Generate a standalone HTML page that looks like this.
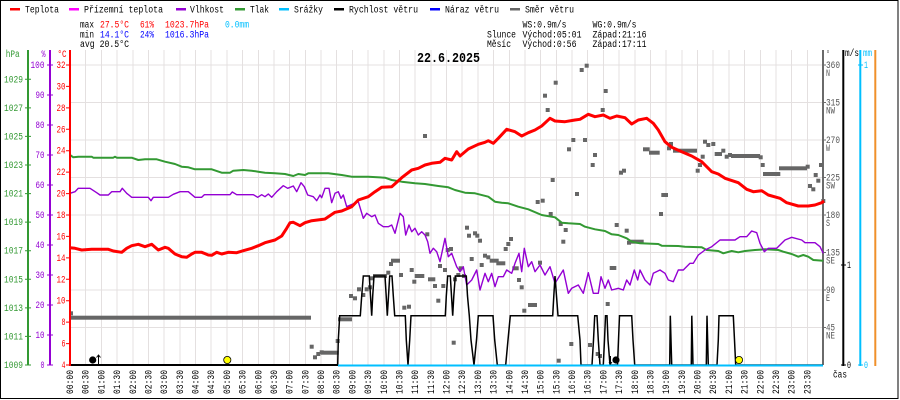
<!DOCTYPE html>
<html><head><meta charset="utf-8"><style>
html,body{margin:0;padding:0;background:#fff}
svg{display:block}
.t{font-family:"Liberation Mono","DejaVu Sans Mono",monospace;font-size:10px}
.b{font-family:"Liberation Mono","DejaVu Sans Mono",monospace;font-size:14px;font-weight:bold}
</style></head><body>
<svg width="900" height="400" viewBox="0 0 900 400" xmlns="http://www.w3.org/2000/svg">
<rect x="0" y="0" width="900" height="400" fill="#fff"/>
<rect x="0.5" y="0.5" width="897.5" height="398" fill="none" stroke="#000" stroke-width="1"/>

<!-- grid -->
<path shape-rendering="crispEdges" stroke="#e4e0e0" stroke-width="1" fill="none" d="M85.7 50V365M101.4 50V365M117.1 50V365M132.8 50V365M148.4 50V365M164.1 50V365M179.8 50V365M195.5 50V365M211.2 50V365M226.9 50V365M242.6 50V365M258.3 50V365M273.9 50V365M289.6 50V365M305.3 50V365M321 50V365M336.7 50V365M352.4 50V365M368.1 50V365M383.8 50V365M399.4 50V365M415.1 50V365M430.8 50V365M446.5 50V365M462.2 50V365M477.9 50V365M493.6 50V365M509.3 50V365M524.9 50V365M540.6 50V365M556.3 50V365M572 50V365M587.7 50V365M603.4 50V365M619.1 50V365M634.8 50V365M650.4 50V365M666.1 50V365M681.8 50V365M697.5 50V365M713.2 50V365M728.9 50V365M744.6 50V365M760.3 50V365M775.9 50V365M791.6 50V365M807.3 50V365M70 65H823M70 102.5H823M70 140H823M70 177.5H823M70 215H823M70 252.5H823M70 290H823M70 327.5H823"/>

<!-- legend -->
<g class="t">
<rect x="10" y="8" width="10" height="2.5" fill="#ff0000"/><text x="25" y="12.5" textLength="34" lengthAdjust="spacingAndGlyphs">Teplota</text>
<rect x="69" y="8" width="10" height="2.5" fill="#ff00ff"/><text x="84" y="12.5" textLength="79" lengthAdjust="spacingAndGlyphs">Přízemní teplota</text>
<rect x="176" y="8" width="10" height="2.5" fill="#9400d3"/><text x="190" y="12.5" textLength="34" lengthAdjust="spacingAndGlyphs">Vlhkost</text>
<rect x="235" y="8" width="10" height="2.5" fill="#339933"/><text x="250" y="12.5" textLength="19" lengthAdjust="spacingAndGlyphs">Tlak</text>
<rect x="279" y="8" width="10" height="2.5" fill="#00bfff"/><text x="294" y="12.5" textLength="29" lengthAdjust="spacingAndGlyphs">Srážky</text>
<rect x="334" y="8" width="10" height="2.5" fill="#000"/><text x="349" y="12.5" textLength="69" lengthAdjust="spacingAndGlyphs">Rychlost větru</text>
<rect x="430" y="8" width="10" height="2.5" fill="#0000ff"/><text x="445" y="12.5" textLength="54" lengthAdjust="spacingAndGlyphs">Náraz větru</text>
<rect x="510" y="8" width="10" height="2.5" fill="#666"/><text x="525" y="12.5" textLength="49" lengthAdjust="spacingAndGlyphs">Směr větru</text>

<text x="80" y="27.5" textLength="14" lengthAdjust="spacingAndGlyphs">max</text>
<text x="100" y="27.5" fill="#ff0000" textLength="29" lengthAdjust="spacingAndGlyphs">27.5°C</text>
<text x="140" y="27.5" fill="#ff0000" textLength="14" lengthAdjust="spacingAndGlyphs">61%</text>
<text x="165" y="27.5" fill="#ff0000" textLength="44" lengthAdjust="spacingAndGlyphs">1023.7hPa</text>
<text x="225" y="27.5" fill="#00bfff" textLength="24" lengthAdjust="spacingAndGlyphs">0.0mm</text>
<text x="80" y="37.5" textLength="14" lengthAdjust="spacingAndGlyphs">min</text>
<text x="100" y="37.5" fill="#0000ff" textLength="29" lengthAdjust="spacingAndGlyphs">14.1°C</text>
<text x="140" y="37.5" fill="#0000ff" textLength="14" lengthAdjust="spacingAndGlyphs">24%</text>
<text x="165" y="37.5" fill="#0000ff" textLength="44" lengthAdjust="spacingAndGlyphs">1016.3hPa</text>
<text x="80" y="47" textLength="49" lengthAdjust="spacingAndGlyphs">avg 20.5°C</text>

<text x="522.5" y="27.5" textLength="44" lengthAdjust="spacingAndGlyphs">WS:0.9m/s</text>
<text x="592.5" y="27.5" textLength="44" lengthAdjust="spacingAndGlyphs">WG:0.9m/s</text>
<text x="487" y="37.5" textLength="29" lengthAdjust="spacingAndGlyphs">Slunce</text>
<text x="522.5" y="37.5" textLength="59" lengthAdjust="spacingAndGlyphs">Východ:05:01</text>
<text x="592.5" y="37.5" textLength="54" lengthAdjust="spacingAndGlyphs">Západ:21:16</text>
<text x="487" y="47" textLength="24" lengthAdjust="spacingAndGlyphs">Měsíc</text>
<text x="522.5" y="47" textLength="54" lengthAdjust="spacingAndGlyphs">Východ:0:56</text>
<text x="592.5" y="47" textLength="54" lengthAdjust="spacingAndGlyphs">Západ:17:11</text>
</g>
<text class="b" x="417" y="62" textLength="63" lengthAdjust="spacingAndGlyphs">22.6.2025</text>

<!-- left axes -->
<g stroke-width="2">
<line x1="28" y1="50" x2="28" y2="365" stroke="#339933"/>
<line x1="50" y1="50" x2="50" y2="365" stroke="#9400d3"/>
</g>
<path stroke="#339933" stroke-width="1" d="M25 365H31M25 336.4H31M25 307.9H31M25 279.3H31M25 250.7H31M25 222.1H31M25 193.6H31M25 165H31M25 136.4H31M25 107.9H31M25 79.3H31"/>
<path stroke="#9400d3" stroke-width="1" d="M47 365H53M47 335H53M47 305H53M47 275H53M47 245H53M47 215H53M47 185H53M47 155H53M47 125H53M47 95H53M47 65H53"/>
<path stroke="#ff0000" stroke-width="1" d="M66 365H70M66 343.6H70M66 322.1H70M66 300.7H70M66 279.3H70M66 257.9H70M66 236.4H70M66 215H70M66 193.6H70M66 172.1H70M66 150.7H70M66 129.3H70M66 107.9H70M66 86.4H70M66 65H70"/>

<g class="t" fill="#339933" text-anchor="end">
<text x="23" y="57" text-anchor="start" transform="translate(-17.3 0)" textLength="14" lengthAdjust="spacingAndGlyphs">hPa</text>
<text x="23" y="368" textLength="19" lengthAdjust="spacingAndGlyphs">1009</text>
<text x="23" y="339.4" textLength="19" lengthAdjust="spacingAndGlyphs">1011</text>
<text x="23" y="310.9" textLength="19" lengthAdjust="spacingAndGlyphs">1013</text>
<text x="23" y="282.3" textLength="19" lengthAdjust="spacingAndGlyphs">1015</text>
<text x="23" y="253.7" textLength="19" lengthAdjust="spacingAndGlyphs">1017</text>
<text x="23" y="225.1" textLength="19" lengthAdjust="spacingAndGlyphs">1019</text>
<text x="23" y="196.6" textLength="19" lengthAdjust="spacingAndGlyphs">1021</text>
<text x="23" y="168" textLength="19" lengthAdjust="spacingAndGlyphs">1023</text>
<text x="23" y="139.4" textLength="19" lengthAdjust="spacingAndGlyphs">1025</text>
<text x="23" y="110.9" textLength="19" lengthAdjust="spacingAndGlyphs">1027</text>
<text x="23" y="82.3" textLength="19" lengthAdjust="spacingAndGlyphs">1029</text>
</g>
<g class="t" fill="#9400d3" text-anchor="end">
<text x="45.5" y="57" textLength="4" lengthAdjust="spacingAndGlyphs">%</text>
<text x="44.5" y="368" textLength="4" lengthAdjust="spacingAndGlyphs">0</text>
<text x="44.5" y="338" textLength="9" lengthAdjust="spacingAndGlyphs">10</text>
<text x="44.5" y="308" textLength="9" lengthAdjust="spacingAndGlyphs">20</text>
<text x="44.5" y="278" textLength="9" lengthAdjust="spacingAndGlyphs">30</text>
<text x="44.5" y="248" textLength="9" lengthAdjust="spacingAndGlyphs">40</text>
<text x="44.5" y="218" textLength="9" lengthAdjust="spacingAndGlyphs">50</text>
<text x="44.5" y="188" textLength="9" lengthAdjust="spacingAndGlyphs">60</text>
<text x="44.5" y="158" textLength="9" lengthAdjust="spacingAndGlyphs">70</text>
<text x="44.5" y="128" textLength="9" lengthAdjust="spacingAndGlyphs">80</text>
<text x="44.5" y="98" textLength="9" lengthAdjust="spacingAndGlyphs">90</text>
<text x="44.5" y="68" textLength="14" lengthAdjust="spacingAndGlyphs">100</text>
</g>
<g class="t" fill="#ff0000" text-anchor="end">
<text x="66.5" y="57" textLength="9" lengthAdjust="spacingAndGlyphs">°C</text>
<text x="65.5" y="368" textLength="4" lengthAdjust="spacingAndGlyphs">4</text>
<text x="65.5" y="346.6" textLength="4" lengthAdjust="spacingAndGlyphs">6</text>
<text x="65.5" y="325.1" textLength="4" lengthAdjust="spacingAndGlyphs">8</text>
<text x="65.5" y="303.7" textLength="9" lengthAdjust="spacingAndGlyphs">10</text>
<text x="65.5" y="282.3" textLength="9" lengthAdjust="spacingAndGlyphs">12</text>
<text x="65.5" y="260.9" textLength="9" lengthAdjust="spacingAndGlyphs">14</text>
<text x="65.5" y="239.4" textLength="9" lengthAdjust="spacingAndGlyphs">16</text>
<text x="65.5" y="218" textLength="9" lengthAdjust="spacingAndGlyphs">18</text>
<text x="65.5" y="196.6" textLength="9" lengthAdjust="spacingAndGlyphs">20</text>
<text x="65.5" y="175.1" textLength="9" lengthAdjust="spacingAndGlyphs">22</text>
<text x="65.5" y="153.7" textLength="9" lengthAdjust="spacingAndGlyphs">24</text>
<text x="65.5" y="132.3" textLength="9" lengthAdjust="spacingAndGlyphs">26</text>
<text x="65.5" y="110.9" textLength="9" lengthAdjust="spacingAndGlyphs">28</text>
<text x="65.5" y="89.4" textLength="9" lengthAdjust="spacingAndGlyphs">30</text>
<text x="65.5" y="68" textLength="9" lengthAdjust="spacingAndGlyphs">32</text>
</g>

<!-- right axes -->
<g stroke-width="2">
<line x1="823" y1="50" x2="823" y2="365" stroke="#6a6a6a"/>
<line x1="843.3" y1="50" x2="843.3" y2="366" stroke="#000"/>
<line x1="860.3" y1="50" x2="860.3" y2="366" stroke="#00bfff"/>
<line x1="875.3" y1="50" x2="875.3" y2="366" stroke="#f0902a"/>
</g>
<path stroke="#6a6a6a" stroke-width="1" d="M823 65H826M823 102.5H826M823 140H826M823 177.5H826M823 215H826M823 252.5H826M823 290H826M823 327.5H826"/>
<path stroke="#000" stroke-width="1" d="M841 265H846M841 365H846"/>
<path stroke="#00bfff" stroke-width="1" d="M858 65H863M858 365H863"/>
<g class="t" fill="#555">
<text x="826" y="57" textLength="4" lengthAdjust="spacingAndGlyphs">°</text>
<text x="826" y="68" textLength="14" lengthAdjust="spacingAndGlyphs">360</text><text x="826" y="76" textLength="4" lengthAdjust="spacingAndGlyphs">N</text>
<text x="826" y="105.5" textLength="14" lengthAdjust="spacingAndGlyphs">315</text><text x="826" y="113.5" textLength="9" lengthAdjust="spacingAndGlyphs">NW</text>
<text x="826" y="143" textLength="14" lengthAdjust="spacingAndGlyphs">270</text><text x="826" y="151" textLength="4" lengthAdjust="spacingAndGlyphs">W</text>
<text x="826" y="180.5" textLength="14" lengthAdjust="spacingAndGlyphs">225</text><text x="826" y="188.5" textLength="9" lengthAdjust="spacingAndGlyphs">SW</text>
<text x="826" y="218" textLength="14" lengthAdjust="spacingAndGlyphs">180</text><text x="826" y="226" textLength="4" lengthAdjust="spacingAndGlyphs">S</text>
<text x="826" y="255.5" textLength="14" lengthAdjust="spacingAndGlyphs">135</text><text x="826" y="263.5" textLength="9" lengthAdjust="spacingAndGlyphs">SE</text>
<text x="826" y="293" textLength="9" lengthAdjust="spacingAndGlyphs">90</text><text x="826" y="301" textLength="4" lengthAdjust="spacingAndGlyphs">E</text>
<text x="826" y="330.5" textLength="9" lengthAdjust="spacingAndGlyphs">45</text><text x="826" y="338.5" textLength="9" lengthAdjust="spacingAndGlyphs">NE</text>
</g>
<g class="t">
<text x="845" y="56" textLength="14" lengthAdjust="spacingAndGlyphs">m/s</text>
<text x="847" y="268" textLength="4" lengthAdjust="spacingAndGlyphs">1</text>
<text x="847" y="368" textLength="4" lengthAdjust="spacingAndGlyphs">0</text>
<text x="833" y="377.5" textLength="14" lengthAdjust="spacingAndGlyphs">čas</text>
</g>
<g class="t" fill="#00bfff">
<text x="863" y="56" textLength="9" lengthAdjust="spacingAndGlyphs">mm</text>
<text x="864" y="68" textLength="4" lengthAdjust="spacingAndGlyphs">1</text>
<text x="864" y="368" textLength="4" lengthAdjust="spacingAndGlyphs">0</text>
</g>

<!-- wind direction squares -->
<g fill="#666">
<rect x="70" y="315.7" width="241" height="4"/><rect x="69" y="311.3" width="4" height="4"/>
<rect x="309.7" y="344.7" width="4" height="4"/><rect x="313" y="355.3" width="4" height="4"/><rect x="316.3" y="352" width="4" height="4"/><rect x="319.7" y="350.3" width="4" height="4"/>
<rect x="321" y="350.7" width="17.7" height="4"/><rect x="335.7" y="339" width="4" height="4"/><rect x="338" y="317.3" width="14" height="4"/>
<rect x="349" y="294" width="4" height="4"/><rect x="353" y="296.3" width="4" height="4"/><rect x="357" y="287.3" width="4" height="4"/><rect x="361.3" y="293" width="4" height="4"/><rect x="364.7" y="287.3" width="4" height="4"/><rect x="368" y="285.3" width="4" height="4"/><rect x="369.7" y="276.3" width="4" height="4"/>
<rect x="373" y="274" width="14" height="4"/><rect x="386.3" y="270.7" width="4" height="4"/><rect x="389" y="262" width="4" height="4"/><rect x="391" y="258.7" width="9" height="4"/>
<rect x="399" y="273" width="4" height="4"/><rect x="402.3" y="305.7" width="4" height="4"/><rect x="407" y="304.7" width="4" height="4"/><rect x="409.7" y="268" width="4" height="4"/><rect x="412.3" y="279.7" width="4" height="4"/><rect x="414.7" y="274" width="9.6" height="4"/>
<rect x="423" y="134" width="4" height="4"/><rect x="425.3" y="232.3" width="4" height="4"/><rect x="428" y="277.3" width="7.3" height="4"/><rect x="433" y="284" width="4" height="4"/><rect x="436.3" y="298.7" width="4" height="4"/><rect x="438" y="264" width="4" height="4"/><rect x="441.3" y="284" width="4" height="4"/><rect x="443" y="268" width="4" height="4"/><rect x="445.7" y="248" width="4" height="4"/><rect x="449" y="247" width="4" height="4"/><rect x="451.7" y="340.7" width="4" height="4"/><rect x="453" y="277.3" width="4" height="4"/><rect x="456.3" y="273" width="4" height="4"/><rect x="458.7" y="266.3" width="4" height="4"/><rect x="462" y="274" width="4" height="4"/>
<rect x="465" y="225.7" width="4" height="4"/><rect x="467" y="233.7" width="4" height="4"/><rect x="469.7" y="257" width="4" height="4"/><rect x="473" y="231.3" width="4" height="4"/><rect x="475.3" y="233.7" width="4" height="4"/><rect x="478" y="238.7" width="4" height="4"/><rect x="479.7" y="263" width="4" height="4"/><rect x="483" y="253.7" width="4" height="4"/><rect x="486.3" y="255.3" width="4" height="4"/><rect x="489.7" y="258.7" width="9" height="4"/><rect x="496.3" y="261.3" width="9" height="4"/>
<rect x="503.7" y="247" width="4" height="4"/><rect x="506.3" y="242" width="4" height="4"/><rect x="509" y="237" width="4" height="4"/><rect x="512.3" y="266.3" width="6.4" height="4"/><rect x="517" y="278" width="4" height="4"/><rect x="519.7" y="285.3" width="4" height="4"/><rect x="522.3" y="308.7" width="4" height="4"/><rect x="528" y="303" width="9" height="4"/>
<rect x="535.7" y="200" width="4" height="4"/><rect x="538" y="260.7" width="4" height="4"/><rect x="540.7" y="198.7" width="4" height="4"/><rect x="543" y="93.7" width="4" height="4"/><rect x="545.7" y="108" width="4" height="4"/><rect x="548.7" y="212" width="4" height="4"/><rect x="550.7" y="178" width="4" height="4"/><rect x="553.7" y="80.7" width="4" height="4"/><rect x="556.7" y="358.7" width="4" height="4"/><rect x="558.7" y="222" width="4" height="4"/><rect x="561.3" y="239.7" width="4" height="4"/><rect x="563.7" y="228" width="4" height="4"/><rect x="567" y="147.3" width="4" height="4"/><rect x="569.3" y="342" width="4" height="4"/><rect x="571.3" y="138" width="4" height="4"/>
<rect x="575" y="192" width="4" height="4"/><rect x="579.7" y="68" width="4" height="4"/><rect x="584.7" y="63.7" width="4" height="4"/><rect x="583" y="138" width="4" height="4"/><rect x="588" y="343" width="4" height="4"/><rect x="590.7" y="163" width="4" height="4"/><rect x="593" y="153" width="4" height="4"/><rect x="595.7" y="352" width="4" height="4"/><rect x="598" y="354" width="4" height="4"/><rect x="600.7" y="108" width="4" height="4"/><rect x="603.7" y="89" width="4" height="4"/><rect x="605.7" y="302" width="4" height="4"/><rect x="609.7" y="266" width="6.6" height="4"/>
<rect x="614.7" y="223" width="4" height="4"/><rect x="619" y="170.7" width="4" height="4"/><rect x="622" y="168.7" width="4" height="4"/><rect x="624.7" y="228.7" width="4" height="4"/><rect x="627" y="240.7" width="4" height="4"/><rect x="629.7" y="239.7" width="14" height="4"/><rect x="643" y="147.3" width="6.7" height="4"/><rect x="649" y="150.7" width="10.7" height="4"/><rect x="659" y="212" width="4" height="4"/><rect x="661.3" y="193" width="6.7" height="4"/><rect x="667" y="146.3" width="4" height="4"/><rect x="669" y="142" width="4" height="4"/><rect x="673" y="148.7" width="24" height="4"/>
<rect x="695.7" y="168.7" width="4" height="4"/><rect x="698" y="163" width="4" height="4"/><rect x="700.7" y="154.7" width="4" height="4"/><rect x="703" y="139.7" width="4" height="4"/><rect x="706.3" y="143" width="4" height="4"/><rect x="711.3" y="142" width="4" height="4"/><rect x="714.7" y="152" width="7.3" height="4"/><rect x="721.3" y="148.7" width="4" height="4"/><rect x="724.7" y="154.7" width="4" height="4"/><rect x="728" y="153" width="4" height="4"/><rect x="731" y="154" width="29" height="4"/><rect x="758.7" y="155.3" width="4" height="4"/><rect x="760.7" y="163" width="4" height="4"/><rect x="763" y="172" width="17.3" height="4"/><rect x="779" y="166.3" width="28" height="4"/><rect x="805.7" y="164.7" width="4" height="4"/><rect x="808" y="184" width="4" height="4"/><rect x="811.3" y="187.3" width="4" height="4"/><rect x="813.7" y="173" width="4" height="4"/><rect x="816.3" y="178.7" width="4" height="4"/><rect x="819" y="163" width="4" height="4"/><rect x="821.3" y="199" width="4" height="4"/>
</g>

<!-- pressure -->
<polyline fill="none" stroke="#339933" stroke-width="2" stroke-linejoin="round" points="70,155 73.3,157.3 78.3,156.7 91.7,156.7 93.3,157.7 113.3,157.7 115,156.7 116.7,157.7 131.7,157.7 138.3,160 145,159.3 156.7,159.3 165,161.7 175,164 181.7,166.7 188.3,167.3 195,169.3 211.7,169.3 221.7,172.7 230,172.7 233.3,170.7 243.3,170 251.7,170.7 258.3,171.7 265,172.7 275,173.3 285,174 293.3,176 298.3,174 305,175 308.3,173.3 328.3,173.3 341.7,175 351.7,176.7 368.3,176.7 385,177.7 391.7,180 401.7,181.7 415,183.3 425,184 438.3,186 448.3,187.3 455,190 465,192.7 475,193.3 488.3,196.7 495,201.7 501.7,202.7 508.3,203.3 518.3,206.7 528.3,209.3 541.7,215 555,217.3 561.7,222.7 568.3,223.3 580,224 585,226.7 595,229.3 605,231 611.7,234.3 618.3,235 626.7,238.3 631.7,241.7 640,243.3 658.3,244 661.7,245.7 678.3,246 685,246.7 701.7,247.3 706.7,250 718.3,251 723.3,253.3 731.7,251 738.3,252.3 745,251 755,250 765,249.3 778.3,250 783.3,251.7 791.7,254 798.3,256.7 803.3,255 808.3,256.7 813.3,260 823.3,260.7"/>

<!-- humidity -->
<polyline fill="none" stroke="#9400d3" stroke-width="1.4" stroke-linejoin="round" points="70,193.3 75,191.7 78.3,188.3 90,188.3 96.7,192.7 100,195 108.3,195 111.7,191.7 120,191.7 122.3,188.3 126.7,193.3 131.7,197.3 148.3,197.3 151,200.7 153.3,197.3 168.3,197.3 173.3,194.3 180,191.7 188.3,191.7 195,197.3 201.7,197.3 204.3,194.7 230,194.7 232.3,192 236.7,194.7 253.3,194.7 257.7,197.3 261.7,194.7 265,196.7 268.3,194 271.7,197.3 276.7,191.7 283.3,185.7 287.7,188.3 293.3,186 296.7,191.7 301,182.7 304.3,186.7 307.7,195 313.3,196.7 316.7,200.7 320,195 321.7,197.7 325,188.3 329,188.3 331.7,202.7 335,193.3 338.3,191.7 341,198.3 343.3,195 346.7,206.7 358.3,201.7 363.3,218.3 366.7,213.3 371.7,216.7 375,215 378.3,223.3 383.3,226.7 388.3,226.7 391.7,225 395,233.3 400,213.3 403.3,216.7 405.7,235 409,225 411.7,231.7 415,228.3 418.3,235 421.7,231.7 425,235 427.7,241.7 430,253.3 433.3,248.3 436.7,251.7 440,261.7 445,238.3 448.3,256.7 451.7,253.3 456.7,266.7 460,271.7 463.3,266.7 466.7,285 471.7,280 476.7,270 480,290 485,273.3 488.3,281.7 491.7,273.3 495,286.7 498.3,276.7 503.3,276.7 506.7,270 511.7,273.3 515,263.3 519,253.3 521.7,271.7 524.3,248.3 528.3,266.7 531.7,261.7 535,271.7 540,265 545,275 550,266.7 555,283.3 563.3,270 568.3,293.3 571.7,288.3 578.3,285 583.3,293.3 588.3,272.7 593.3,293.3 598.3,293.3 601,276.7 605,288.3 608.3,280 611.7,290 618.3,288.3 623.3,290 626.7,280 630,285 634.3,270 637.7,280 640,270 645,280 650,285 653.3,273.3 660,270 665,273.3 668.3,280 673.3,281.7 678.3,270 683.3,270 690,263.3 693.3,263.3 698.3,255 705,250 711.7,246.7 720,240 735,240 740,236.7 746.7,236.7 751.7,231 756.7,232.7 760,243.3 764.3,251.7 768.3,248.3 776.7,248.3 785,240 791.7,237.3 801.7,240 805,242.7 815,242.7 820,246.7 823.3,253.3"/>

<!-- temperature -->
<polyline fill="none" stroke="#ff0000" stroke-width="3" stroke-linejoin="round" points="70,247.7 75,248.3 81.7,250 91.7,249.3 108.3,249.3 113.3,251 121.7,252.3 126.7,248.3 131.7,245.7 138.3,244.3 145,246.7 151.7,244.3 158.3,250 165,247.3 168.3,248.3 175,254 181.7,256.7 186.7,257.3 191.7,254 195,252.3 201.7,252.3 208.3,255 211.7,255.3 216.7,252.3 221.7,254 228.3,252.3 236.7,252.7 243.3,250.7 251.7,248.3 258.3,245.7 265,242.7 275,240 281.7,236 286.7,228.3 290,222.7 293.3,222.3 300,225.7 305,222.7 311.7,220.7 323.3,219.3 325,219 335,212.3 341.7,211 351.7,206.7 358.3,200 368.3,196.7 375,191.7 381.7,187.3 391.7,186.7 401.7,177.7 411.7,170 418.3,168.3 425,165 431.7,163.3 440,162.3 445,158.3 451.7,160 456.7,151.7 460,156 468.3,149 478.3,144.3 485,142.3 488.3,140.7 493.3,143.3 498.3,138.3 506.7,129.3 515,131.7 521.7,136 528.3,132.7 535,130 541.7,126 550,118.3 555,121 565,121.7 575,120 580,119.3 588.3,114.3 595,116.7 603.3,115 610,118.3 616.7,116 625,117.7 631.7,124 638.3,120 646.7,118.3 653.3,123.3 658.3,130 665,141.7 671.7,147.3 681.7,151.7 691.7,156 701.7,161.7 711.7,171.7 718.3,174 725,178.3 738.3,182.7 746.7,189.3 753.3,191.7 761.7,190.7 768.3,195 780,198.3 786.7,202.7 798.3,206 808.3,206 815,205 821.7,202.7 824,201"/>

<!-- wind speed -->
<polyline fill="none" stroke="#000" stroke-width="1.5" points="70,365 337.7,365 338.3,340 339.7,315.7 360.3,315.7 361.7,296 363.3,276 369.3,276 370.5,296 371.7,315.7 372.7,296 374,276 385,276 386.2,296 387.3,315.7 388.5,296 389.7,276 392,276 393.3,296 394.7,315.7 405.3,315.7 406.3,340 408,365 409.7,340 411,315.7 445.3,315.7 446.3,296 447.7,276 450.3,276 451.5,296 452.7,315.7 453.8,296 455.3,276 466.3,276 467.5,296 469.3,315.7 471,340 474,365 476.5,340 478.3,315.7 493,315.7 494.7,340 497.3,365 505.7,365 508,340 510.3,315.7 552.7,315.7 553.8,296 555,276 556.5,296 558,315.7 577.7,315.7 580,340 581,365 592,365 593.5,340 594.7,315.7 597,315.7 598.3,340 600,365 603.3,365 604.5,340 605.5,315.7 607,315.7 608,340 610,365 617.5,365 618.5,340 619.5,315.7 631.7,315.7 633,340 634.7,365 669.7,365 670.3,315.7 671.7,365 691.3,365 691.8,315.7 693,365 706.3,365 707,315.7 708.3,365 717,365 718.3,340 719,315.7 733.3,315.7 734.5,340 735.7,365 823,365"/>
<line x1="70" y1="365" x2="338" y2="365" stroke="#000" stroke-width="2"/>
<line x1="338" y1="365.5" x2="823" y2="365.5" stroke="#00bfff" stroke-width="2"/>

<!-- red temp axis on top -->
<line x1="70" y1="50" x2="70" y2="366" stroke="#ff0000" stroke-width="2"/>

<!-- sun/moon markers -->
<circle cx="92.7" cy="360" r="3.6" fill="#000"/>
<path d="M98.5 365V355M96.5 357.5L98.5 355L100.5 357.5" stroke="#000" stroke-width="1" fill="none"/>
<circle cx="227.3" cy="360" r="3.6" fill="#ffff00" stroke="#000" stroke-width="0.8"/>
<circle cx="616" cy="360" r="3.6" fill="#000"/>
<path d="M610.5 356V364M609 362L610.5 364L612 362" stroke="#000" stroke-width="1" fill="none"/>
<circle cx="739" cy="360" r="3.6" fill="#ffff00" stroke="#000" stroke-width="0.8"/>

<!-- x labels -->
<g class="t">
<text transform="translate(73,394) rotate(-90)" textLength="24" lengthAdjust="spacingAndGlyphs">00:00</text>
<text transform="translate(88.7,394) rotate(-90)" textLength="24" lengthAdjust="spacingAndGlyphs">00:30</text>
<text transform="translate(104.4,394) rotate(-90)" textLength="24" lengthAdjust="spacingAndGlyphs">01:00</text>
<text transform="translate(120.1,394) rotate(-90)" textLength="24" lengthAdjust="spacingAndGlyphs">01:30</text>
<text transform="translate(135.8,394) rotate(-90)" textLength="24" lengthAdjust="spacingAndGlyphs">02:00</text>
<text transform="translate(151.4,394) rotate(-90)" textLength="24" lengthAdjust="spacingAndGlyphs">02:30</text>
<text transform="translate(167.1,394) rotate(-90)" textLength="24" lengthAdjust="spacingAndGlyphs">03:00</text>
<text transform="translate(182.8,394) rotate(-90)" textLength="24" lengthAdjust="spacingAndGlyphs">03:30</text>
<text transform="translate(198.5,394) rotate(-90)" textLength="24" lengthAdjust="spacingAndGlyphs">04:00</text>
<text transform="translate(214.2,394) rotate(-90)" textLength="24" lengthAdjust="spacingAndGlyphs">04:30</text>
<text transform="translate(229.9,394) rotate(-90)" textLength="24" lengthAdjust="spacingAndGlyphs">05:00</text>
<text transform="translate(245.6,394) rotate(-90)" textLength="24" lengthAdjust="spacingAndGlyphs">05:30</text>
<text transform="translate(261.3,394) rotate(-90)" textLength="24" lengthAdjust="spacingAndGlyphs">06:00</text>
<text transform="translate(276.9,394) rotate(-90)" textLength="24" lengthAdjust="spacingAndGlyphs">06:30</text>
<text transform="translate(292.6,394) rotate(-90)" textLength="24" lengthAdjust="spacingAndGlyphs">07:00</text>
<text transform="translate(308.3,394) rotate(-90)" textLength="24" lengthAdjust="spacingAndGlyphs">07:30</text>
<text transform="translate(324,394) rotate(-90)" textLength="24" lengthAdjust="spacingAndGlyphs">08:00</text>
<text transform="translate(339.7,394) rotate(-90)" textLength="24" lengthAdjust="spacingAndGlyphs">08:30</text>
<text transform="translate(355.4,394) rotate(-90)" textLength="24" lengthAdjust="spacingAndGlyphs">09:00</text>
<text transform="translate(371.1,394) rotate(-90)" textLength="24" lengthAdjust="spacingAndGlyphs">09:30</text>
<text transform="translate(386.8,394) rotate(-90)" textLength="24" lengthAdjust="spacingAndGlyphs">10:00</text>
<text transform="translate(402.4,394) rotate(-90)" textLength="24" lengthAdjust="spacingAndGlyphs">10:30</text>
<text transform="translate(418.1,394) rotate(-90)" textLength="24" lengthAdjust="spacingAndGlyphs">11:00</text>
<text transform="translate(433.8,394) rotate(-90)" textLength="24" lengthAdjust="spacingAndGlyphs">11:30</text>
<text transform="translate(449.5,394) rotate(-90)" textLength="24" lengthAdjust="spacingAndGlyphs">12:00</text>
<text transform="translate(465.2,394) rotate(-90)" textLength="24" lengthAdjust="spacingAndGlyphs">12:30</text>
<text transform="translate(480.9,394) rotate(-90)" textLength="24" lengthAdjust="spacingAndGlyphs">13:00</text>
<text transform="translate(496.6,394) rotate(-90)" textLength="24" lengthAdjust="spacingAndGlyphs">13:30</text>
<text transform="translate(512.3,394) rotate(-90)" textLength="24" lengthAdjust="spacingAndGlyphs">14:00</text>
<text transform="translate(527.9,394) rotate(-90)" textLength="24" lengthAdjust="spacingAndGlyphs">14:30</text>
<text transform="translate(543.6,394) rotate(-90)" textLength="24" lengthAdjust="spacingAndGlyphs">15:00</text>
<text transform="translate(559.3,394) rotate(-90)" textLength="24" lengthAdjust="spacingAndGlyphs">15:30</text>
<text transform="translate(575,394) rotate(-90)" textLength="24" lengthAdjust="spacingAndGlyphs">16:00</text>
<text transform="translate(590.7,394) rotate(-90)" textLength="24" lengthAdjust="spacingAndGlyphs">16:30</text>
<text transform="translate(606.4,394) rotate(-90)" textLength="24" lengthAdjust="spacingAndGlyphs">17:00</text>
<text transform="translate(622.1,394) rotate(-90)" textLength="24" lengthAdjust="spacingAndGlyphs">17:30</text>
<text transform="translate(637.8,394) rotate(-90)" textLength="24" lengthAdjust="spacingAndGlyphs">18:00</text>
<text transform="translate(653.4,394) rotate(-90)" textLength="24" lengthAdjust="spacingAndGlyphs">18:30</text>
<text transform="translate(669.1,394) rotate(-90)" textLength="24" lengthAdjust="spacingAndGlyphs">19:00</text>
<text transform="translate(684.8,394) rotate(-90)" textLength="24" lengthAdjust="spacingAndGlyphs">19:30</text>
<text transform="translate(700.5,394) rotate(-90)" textLength="24" lengthAdjust="spacingAndGlyphs">20:00</text>
<text transform="translate(716.2,394) rotate(-90)" textLength="24" lengthAdjust="spacingAndGlyphs">20:30</text>
<text transform="translate(731.9,394) rotate(-90)" textLength="24" lengthAdjust="spacingAndGlyphs">21:00</text>
<text transform="translate(747.6,394) rotate(-90)" textLength="24" lengthAdjust="spacingAndGlyphs">21:30</text>
<text transform="translate(763.3,394) rotate(-90)" textLength="24" lengthAdjust="spacingAndGlyphs">22:00</text>
<text transform="translate(778.9,394) rotate(-90)" textLength="24" lengthAdjust="spacingAndGlyphs">22:30</text>
<text transform="translate(794.6,394) rotate(-90)" textLength="24" lengthAdjust="spacingAndGlyphs">23:00</text>
<text transform="translate(810.3,394) rotate(-90)" textLength="24" lengthAdjust="spacingAndGlyphs">23:30</text>
</g>
</svg>
</body></html>
